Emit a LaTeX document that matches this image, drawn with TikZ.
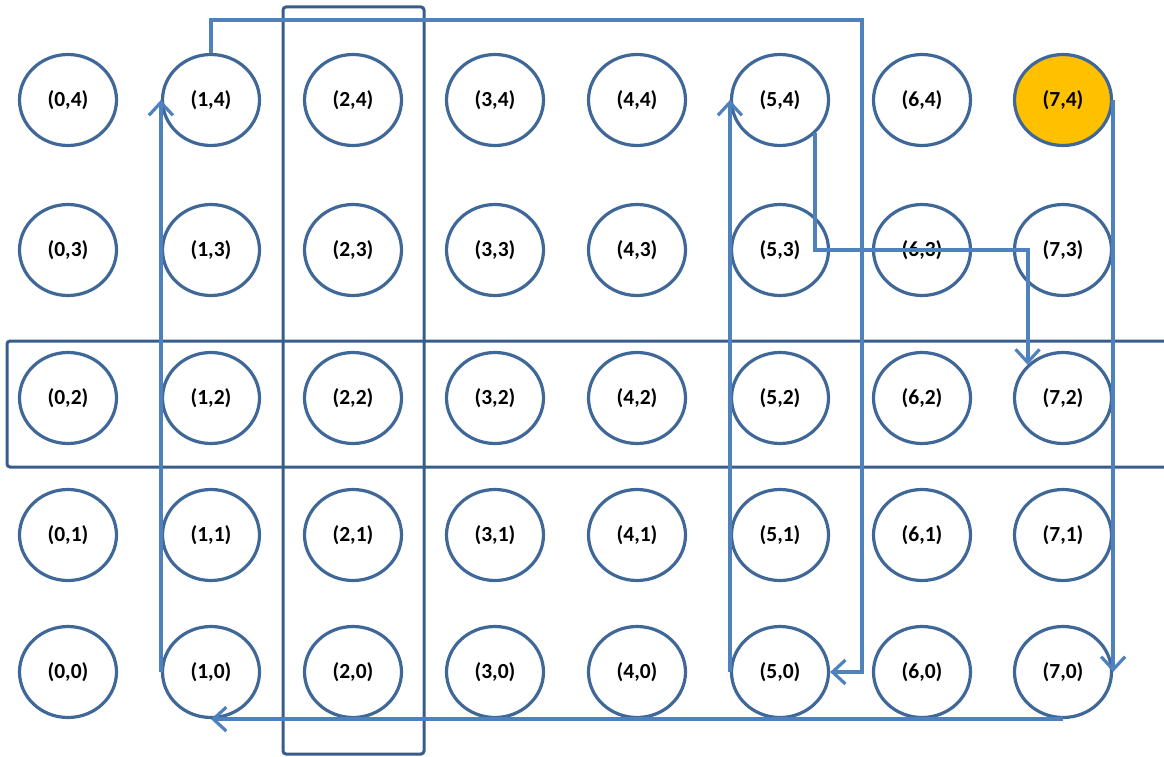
\documentclass[tikz,border=0pt]{standalone}
\usepackage{fontspec}
\setmainfont{Carlito}
\usetikzlibrary{arrows.meta,shapes.geometric}
\definecolor{cedge}{HTML}{3F6899}
\definecolor{cpath}{HTML}{4F81BD}
\definecolor{crect}{HTML}{385D8A}
\definecolor{corange}{HTML}{FFC000}
\begin{document}
\begin{tikzpicture}[x=1pt,y=-1pt,
 cell/.style={ellipse,draw=cedge,line width=3.2pt,minimum width=97pt,minimum height=91pt,inner sep=0pt,font=\fontsize{21.5}{21.5}\selectfont\bfseries},
 band/.style={draw=crect,line width=3pt,rounded corners=3pt},
 route/.style={draw=cpath,line width=4pt},
 tip/.style={-{Straight Barb[length=13pt,width=24pt,line width=3.2pt]}}
]
\useasboundingbox (0,0) rectangle (1164,757);
\foreach \c/\x in {0/68,1/211,2/353,3/495,4/637,5/780,6/922,7/1063}{
  \foreach \r/\y in {0/672,1/535,2/398,3/250,4/100}{
    \ifnum\c\r=74 \def\fc{corange}\else\def\fc{white}\fi
    \node[cell,fill=\fc] (n\c\r) at (\x,\y) {(\c,\r)};
  }
}
\draw[band] (283,7) rectangle (424,754);
\draw[band] (7,341) rectangle (1180,467);
\coordinate (aTR) at (862,20);
\draw[route,tip] (n14.north) |- (aTR) |- (n50.east);
\draw[route,tip] (n54.south east) -- (n54.south east |- n53) -| (n72.north west);
\draw[route,tip] (n74.east) -- (n70.east);
\draw[route,tip] (n70.south) -- (n10.south);
\draw[route,tip] (n10.west) -- (n14.west);
\draw[route,tip] (n50.west) -- (n54.west);
\end{tikzpicture}
\end{document}
